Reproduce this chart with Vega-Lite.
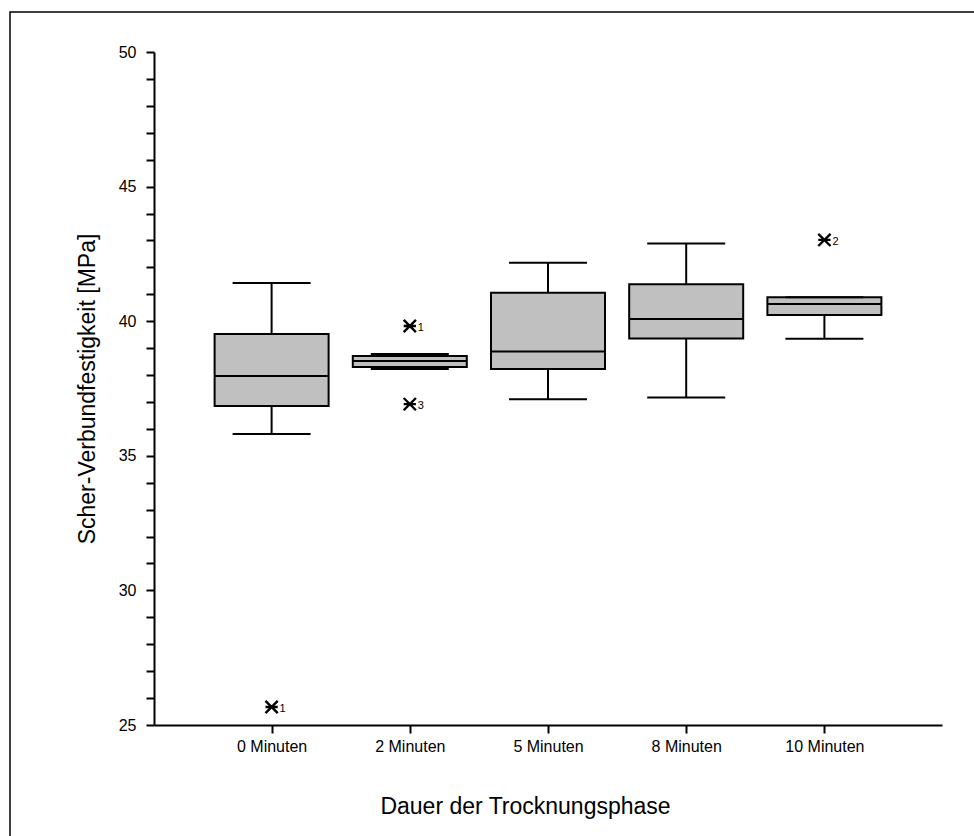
{
  "$schema": "https://vega.github.io/schema/vega-lite/v6.json",
  "autosize": {"type": "none"},
  "width": 974,
  "height": 834,
  "padding": {"left": 10, "top": 12, "right": -10, "bottom": -10},
  "background": "white",
  "config": {
    "view": {"stroke": "black", "strokeWidth": 1.5},
    "font": "Liberation Sans",
    "axis": {"labelColor": "black", "titleColor": "black", "domainColor": "black", "tickColor": "black", "titleFontWeight": "normal", "grid": false, "labelOverlap": false, "labelBound": false, "labelFlush": false}
  },
  "datasets": {
    "boxes": [
      {"group": "0 Minuten", "lo": 35.81, "q1": 36.85, "median": 37.96, "q3": 39.52, "hi": 41.42},
      {"group": "2 Minuten", "lo": 38.22, "q1": 38.30, "median": 38.52, "q3": 38.71, "hi": 38.78},
      {"group": "5 Minuten", "lo": 37.10, "q1": 38.22, "median": 38.87, "q3": 41.06, "hi": 42.17},
      {"group": "8 Minuten", "lo": 37.17, "q1": 39.36, "median": 40.08, "q3": 41.37, "hi": 42.89},
      {"group": "10 Minuten", "lo": 39.35, "q1": 40.23, "median": 40.64, "q3": 40.89, "hi": 40.89}
    ],
    "outliers": [
      {"group": "0 Minuten", "value": 25.67, "label": "1"},
      {"group": "2 Minuten", "value": 39.82, "label": "1"},
      {"group": "2 Minuten", "value": 36.92, "label": "3"},
      {"group": "10 Minuten", "value": 43.02, "label": "2"}
    ]
  },
  "encoding": {
    "x": {
      "field": "group",
      "type": "ordinal",
      "sort": ["0 Minuten", "2 Minuten", "5 Minuten", "8 Minuten", "10 Minuten"],
      "scale": {"type": "point", "range": [144, 932], "padding": 0.851},
      "axis": {
        "title": "Dauer der Trocknungsphase",
        "labelAngle": 0,
        "offset": -121,
        "domainWidth": 2,
        "tickWidth": 2,
        "tickSize": 8,
        "labelPadding": 5,
        "labelFontSize": 16,
        "titleFontSize": 23,
        "titlePadding": 41,
        "titleX": 515
      }
    }
  },
  "layer": [
    {
      "data": {"name": "boxes"},
      "mark": {"type": "rule", "color": "black", "strokeWidth": 2},
      "encoding": {
        "y": {
          "field": "lo",
          "type": "quantitative",
          "scale": {"domain": [25, 50], "range": [713, 40], "zero": false, "nice": false},
          "axis": {
            "title": "Scher-Verbundfestigkeit [MPa]",
            "offset": -144,
            "values": [25, 26, 27, 28, 29, 30, 31, 32, 33, 34, 35, 36, 37, 38, 39, 40, 41, 42, 43, 44, 45, 46, 47, 48, 49, 50],
            "tickCount": 40,
            "format": "d",
            "labelExpr": "datum.value % 5 === 0 ? datum.label : ''",
            "tickSize": 8,
            "tickWidth": 2,
            "domainWidth": 2,
            "labelPadding": 10,
            "labelFontSize": 16,
            "titleFontSize": 23,
            "titlePadding": 19
          }
        },
        "y2": {"field": "q1"}
      }
    },
    {
      "data": {"name": "boxes"},
      "mark": {"type": "rule", "color": "black", "strokeWidth": 2},
      "encoding": {
        "y": {"field": "q3", "type": "quantitative"},
        "y2": {"field": "hi"}
      }
    },
    {
      "data": {"name": "boxes"},
      "mark": {"type": "bar", "size": 114, "fill": "#c0c0c0", "stroke": "black", "strokeWidth": 2},
      "encoding": {
        "y": {"field": "q1", "type": "quantitative"},
        "y2": {"field": "q3"}
      }
    },
    {
      "data": {"name": "boxes"},
      "mark": {"type": "tick", "size": 78, "thickness": 2, "color": "black", "opacity": 1},
      "encoding": {"y": {"field": "lo", "type": "quantitative"}}
    },
    {
      "data": {"name": "boxes"},
      "mark": {"type": "tick", "size": 78, "thickness": 2, "color": "black", "opacity": 1},
      "encoding": {"y": {"field": "hi", "type": "quantitative"}}
    },
    {
      "data": {"name": "boxes"},
      "mark": {"type": "tick", "size": 114, "thickness": 2, "color": "black", "opacity": 1},
      "encoding": {"y": {"field": "median", "type": "quantitative"}}
    },
    {
      "data": {"name": "outliers"},
      "mark": {"type": "point", "shape": "M-1,-1L1,1M-1,1L1,-1M-1,0L1,0", "size": 150, "stroke": "black", "strokeWidth": 2.4, "filled": false, "opacity": 1},
      "encoding": {"y": {"field": "value", "type": "quantitative"}}
    },
    {
      "data": {"name": "outliers"},
      "mark": {"type": "text", "align": "left", "baseline": "middle", "dx": 8, "dy": 2, "fontSize": 11, "color": "black"},
      "encoding": {
        "y": {"field": "value", "type": "quantitative"},
        "text": {"field": "label"}
      }
    }
  ]
}
